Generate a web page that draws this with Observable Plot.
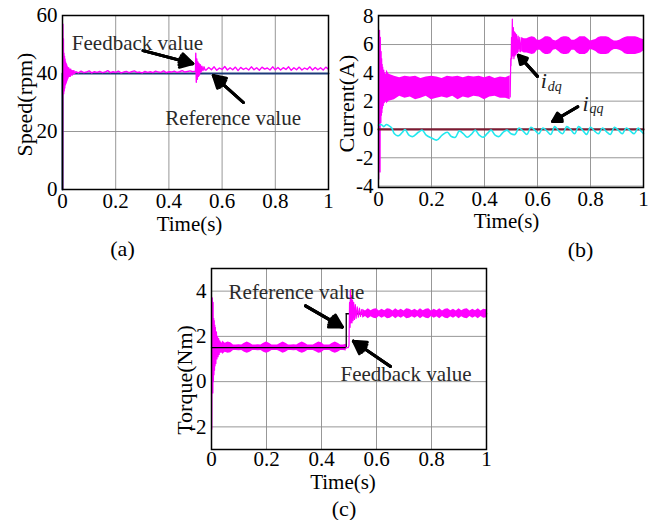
<!DOCTYPE html>
<html><head><meta charset="utf-8">
<script src="https://cdn.jsdelivr.net/npm/d3@7"></script>
<script src="https://cdn.jsdelivr.net/npm/@observablehq/plot@0.6"></script>
<style>
body{margin:0;background:#fff;}
#wrap{position:relative;width:660px;height:520px;overflow:hidden;background:#fff;}
#wrap svg{position:absolute;}
</style></head><body><div id="wrap"></div>
<script>
// ---------- shared ----------
const xTicks = [0, 0.2, 0.4, 0.6, 0.8, 1];
const timeLabel = "Time(s)";

// ---------- (a) Speed ----------
const speedTicks = [0, 20, 40, 60];
const speedRefT = [0, 0, 1];
const speedRefV = [0, 40, 40];
const speedStartT = [0,0.0008,0.0015,0.0025,0.0035,0.0045,0.0055,0.0065,0.0075,0.0085,0.0095,0.0105,0.0115,0.0125,0.0135,0.0145,0.0155,0.0165,0.0175,0.0185,0.0195,0.021,0.023,0.025,0.027,0.029,0.031,0.033,0.035,0.037,0.039,0.041,0.043,0.045];
const speedStartV = [0,30,57,36,52,33,47,34,46,35,45,36,44,36.5,43.5,37,43,37.5,42.5,38,42,38.5,42,39,41.5,39,41.5,39.5,41,39.5,41,40,41,40];
const speedSteadyV = [40.6,40.2,40.8,40.3,40.5,40.9,40.2,40.6,40.4,40.7,40.3,40.5,41.0,40.3,40.6,40.4,40.8,40.2,40.5,40.7,40.3,40.6,40.9,40.4,40.5,40.2,40.7,40.4,40.6,40.3,40.8,40.5,40.4,40.9,40.3,40.6,40.5,40.8,40.4,40.6,41.0,40.5,40.7,40.9,40.6]; // t = 0.05 .. 0.49
const speedStepT = [0.5,0.501,0.503,0.505,0.507,0.509,0.511,0.513,0.515,0.518,0.521,0.524,0.528,0.532,0.536];
const speedStepV = [40.8,47,37,45,38,44,39,43.5,39.5,43,40.5,42.5,41,42.3,41.2];
const speedRippleV = [41.2,42.1,41.3,42.3,41.1,41.9,41.4,42.4,41.2,42.0,41.3,42.2,41.0,42.1,41.4,41.9,41.2,42.3,41.3,42.0,41.1,42.2,41.5,41.9,41.2,42.3,41.3,42.1,41.2,42.0,41.4,42.3,41.1,42.0,41.3,42.2,41.2,41.9,41.4,42.3,41.2,42.1,41.3,42.0,41.2,42.2,41.5]; // t = 0.54 .. 1.00

// ---------- (b) Current ----------
const currentTicks = [-4, -2, 0, 2, 4, 6, 8];
const iqRefT = [0, 1];
const iqRefV = [0, 0];
const idqStartT = [0,0.001,0.002,0.003,0.004,0.005,0.006,0.007,0.008,0.009,0.010,0.011,0.012,0.013,0.014,0.015,0.016,0.018,0.020,0.022,0.024,0.026,0.028,0.030];
const idqStartV = [0,-3.5,2,6.8,7,0,-3,6.5,4,0.5,5.5,1,5,1.2,4.6,1.5,4.4,1.7,4.2,1.9,4.0,2.0,3.9,2.1];
const idqBand1T = [0.03,0.04,0.06,0.08,0.10,0.12,0.14,0.16,0.18,0.20,0.22,0.24,0.26,0.28,0.30,0.32,0.34,0.36,0.38,0.40,0.42,0.44,0.46,0.48,0.497];
const idqBand1Hi = [4.2,3.9,3.75,3.65,3.75,3.7,3.75,3.6,3.7,3.75,3.7,3.6,3.75,3.7,3.75,3.65,3.75,3.7,3.75,3.65,3.75,3.6,3.7,3.65,3.8];
const idqBand1Lo = [1.8,2.0,2.1,2.35,2.2,2.3,2.1,2.2,2.35,2.1,2.2,2.3,2.2,2.35,2.1,2.3,2.2,2.35,2.3,2.1,2.3,2.35,2.2,2.2,2.1];
const idqStepT = [0.497,0.499,0.5,0.502,0.503,0.505,0.507,0.509,0.511,0.513,0.515,0.517,0.519,0.521,0.524,0.527,0.530,0.533,0.536,0.54];
const idqStepV = [2.3,5,4.5,6.5,5,7.8,5.2,7.2,5.0,6.9,5.2,6.8,5.3,6.7,5.4,6.6,5.5,6.5,5.5,6.4];
const idqBand2Hi = [6.5,6.4,6.4,6.5,6.55,6.5,6.3,6.3,6.4,6.55,6.55,6.5,6.3,6.25,6.35,6.5,6.55,6.55,6.5,6.3,6.3,6.4,6.55,6.55,6.55,6.4,6.25,6.3,6.35,6.5,6.55,6.55,6.55,6.5,6.35,6.25,6.25,6.3,6.4,6.5,6.55,6.55,6.55,6.55,6.5,6.4,6.35]; // t = 0.54 .. 1.00
const idqBand2Lo = [5.5,5.4,5.4,5.35,5.3,5.35,5.6,5.6,5.4,5.3,5.3,5.35,5.6,5.65,5.5,5.35,5.3,5.3,5.35,5.6,5.6,5.4,5.3,5.3,5.3,5.4,5.65,5.6,5.5,5.35,5.3,5.3,5.3,5.35,5.55,5.65,5.65,5.6,5.5,5.35,5.3,5.3,5.3,5.3,5.35,5.4,5.55];
const iqqT = [0,0.01,0.02,0.03,0.04,0.05,0.06,0.075,0.09,0.10,0.115,0.13,0.15,0.165,0.18,0.20,0.22,0.24,0.26,0.275,0.29,0.305,0.32,0.335,0.35,0.365,0.38,0.395,0.41,0.425,0.44,0.455,0.47,0.485,0.50,0.515,0.53,0.545,0.56,0.575,0.59,0.605,0.62,0.635,0.65,0.665,0.68,0.695,0.71,0.725,0.74,0.755,0.77,0.785,0.80,0.815,0.83,0.845,0.86,0.875,0.89,0.905,0.92,0.935,0.95,0.965,0.98,0.99,1.0];
const iqqV = [0.3,0.35,0.2,0.35,0.25,0.1,-0.3,-0.45,-0.2,0.0,-0.4,-0.5,-0.2,-0.05,-0.4,-0.6,-0.75,-0.4,-0.2,-0.5,-0.55,-0.1,-0.3,-0.55,-0.35,-0.05,-0.4,-0.55,-0.3,-0.05,-0.4,-0.5,-0.2,-0.05,-0.3,-0.35,0.1,-0.1,-0.35,0.15,-0.05,-0.3,0.1,-0.1,-0.35,0.2,-0.1,-0.3,0.2,0.0,-0.3,0.2,-0.05,-0.35,0.15,-0.1,-0.3,0.1,-0.15,-0.35,0.15,-0.05,-0.3,0.1,-0.1,-0.3,0.1,-0.1,-0.3];

// ---------- (c) Torque ----------
const torqueTicks = [-2, 0, 2, 4];
const tqRef1T = [0, 0.49, 0.49];
const tqRef1V = [1.5, 1.5, 3];
const tqRef2T = [0.49, 1];
const tqRef2V = [3, 3];
const tqStartT = [0,0.001,0.002,0.003,0.004,0.005,0.006,0.007,0.008,0.009,0.010,0.011,0.012,0.013,0.014,0.016,0.018,0.020,0.022,0.024,0.026,0.028,0.030,0.032,0.034,0.036,0.038,0.040];
const tqStartV = [0,-2.1,1,3.7,2.5,-0.5,3.5,0,2.8,0.3,2.7,0.5,2.5,0.7,2.4,0.8,2.2,1.0,2.0,1.1,1.9,1.2,1.8,1.3,1.75,1.3,1.7,1.35];
const tqBand1Half = [0.3,0.2,0.25,0.22,0.12,0.12,0.13,0.12,0.2,0.25,0.2,0.12,0.12,0.13,0.12,0.2,0.25,0.2,0.12,0.12,0.12,0.18,0.25,0.2,0.12,0.12,0.13,0.12,0.2,0.25,0.2,0.12,0.12,0.12,0.18,0.25,0.22,0.12,0.12,0.12,0.2,0.25,0.2,0.12,0.12,0.15]; // t = 0.04 .. 0.49, around 1.5
const tqStepT = [0.49,0.497,0.5,0.502,0.504,0.505,0.507,0.509,0.511,0.513,0.515,0.517,0.520,0.523,0.526,0.530,0.534,0.538,0.542,0.546,0.55];
const tqStepV = [1.5,1.5,1.6,3.5,2.4,4.05,2.6,3.8,2.6,3.6,2.7,3.5,2.75,3.4,2.8,3.3,2.85,3.25,2.88,3.18,2.9];
const tqBand2Half = [0.2,0.12,0.22,0.13,0.2,0.22,0.12,0.2,0.13,0.22,0.2,0.12,0.22,0.13,0.2,0.12,0.22,0.2,0.13,0.2,0.12,0.22,0.13,0.2,0.22,0.12,0.2,0.13,0.22,0.12,0.2,0.22,0.13,0.2,0.12,0.22,0.13,0.2,0.22,0.12,0.2,0.13,0.22,0.12,0.2,0.18]; // t = 0.55 .. 1.00, around 3

// ---------- annotations ----------
const notesA = [
  {text: "Feedback value", x: 0.035, y: 50.3, x1: 0.303, y1: 47.9, x2: 0.49, y2: 43.4},
  {text: "Reference value", x: 0.386, y: 24.5, x1: 0.68, y1: 30, x2: 0.567, y2: 39.3}
];
const notesB = [
  {sub: "dq", x: 0.612, y: 3.4, x1: 0.6, y1: 3.75, x2: 0.528, y2: 5.24},
  {sub: "qq", x: 0.77, y: 1.8, x1: 0.752, y1: 1.6, x2: 0.657, y2: 0.56}
];
const notesC = [
  {text: "Reference value", x: 0.062, y: 3.97, x1: 0.342, y1: 3.35, x2: 0.476, y2: 2.41},
  {text: "Feedback value", x: 0.469, y: 0.31, x1: 0.651, y1: 0.67, x2: 0.516, y2: 1.79}
];

// ---------- helpers ----------
const FONT = "Liberation Serif, Times New Roman, serif";
const MAG = "#ff00ff";
const grid = (start, step, n) => Array.from({length: n}, (_, i) => +(start + i * step).toFixed(4));
const pts = (T, V) => T.map((t, i) => ({t, v: V[i]}));
const band = (T, lo, hi) => T.map((t, i) => ({t, lo: lo[i], hi: hi[i]}));
const bandC = (T, c, half) => T.map((t, i) => ({t, lo: c - half[i], hi: c + half[i]}));

function arrows(notes) {
  return [60, 40, 20].map(a => Plot.arrow(notes, {
    x1: "x1", y1: "y1", x2: "x2", y2: "y2",
    stroke: "black", strokeWidth: 3, headLength: 7, headAngle: a
  }));
}

const wrap = document.getElementById("wrap");
function panel(o) {
  const svg = Plot.plot({
    width: o.width, height: o.height,
    marginTop: o.mt, marginRight: o.mr, marginBottom: o.mb, marginLeft: o.ml,
    style: {fontFamily: FONT, fontSize: "21px", background: "transparent", overflow: "visible", color: "black"},
    x: {domain: [0, 1], label: null},
    y: {domain: o.yDomain, label: null},
    marks: [
      Plot.gridX(xTicks, {stroke: "#8c8c8c", strokeOpacity: 1, strokeWidth: 0.9}),
      Plot.gridY(o.yTicks, {stroke: "#8c8c8c", strokeOpacity: 1, strokeWidth: 0.9}),
      ...o.marks,
      Plot.frame({stroke: "black", strokeWidth: 1.5}),
      Plot.axisX(xTicks, {tickSize: 0, tickPadding: o.xpad, label: null, tickFormat: d => String(d)}),
      Plot.axisY(o.yTicks, {tickSize: 0, tickPadding: 5, label: null, tickFormat: d => String(d)}),
      Plot.text([timeLabel], {text: d => d, frameAnchor: "bottom", textAnchor: "middle", lineAnchor: "middle", dx: o.tdx, dy: o.tdy, fontSize: 21}),
      Plot.text([o.ylabel], {text: d => d, frameAnchor: "left", textAnchor: "middle", lineAnchor: "middle", rotate: -90, dx: o.ydx, dy: o.ydy, fontSize: 22}),
      Plot.text([o.caption], {text: d => d, frameAnchor: "bottom", textAnchor: "middle", lineAnchor: "middle", dx: o.cdx, dy: o.cdy, fontSize: 22})
    ]
  });
  svg.style.left = o.left + "px";
  svg.style.top = o.top + "px";
  wrap.appendChild(svg);
}

// ---------- (a) ----------
panel({
  left: 0, top: 0, width: 330, height: 260, mt: 15, mr: 2, mb: 71, ml: 62,
  yDomain: [0, 60], yTicks: speedTicks, xpad: 4,
  ylabel: "Speed(rpm)", ydx: -38, ydy: 2,
  tdx: -6, tdy: 35, caption: "(a)", cdx: -73, cdy: 59,
  marks: [
    Plot.line(pts(speedRefT, speedRefV), {x: "t", y: "v", stroke: "#1d3a78", strokeWidth: 2}),
    Plot.line([
      ...pts(speedStartT, speedStartV),
      ...pts(grid(0.05, 0.01, speedSteadyV.length), speedSteadyV),
      ...pts(speedStepT, speedStepV),
      ...pts(grid(0.54, 0.01, speedRippleV.length), speedRippleV)
    ], {x: "t", y: "v", stroke: MAG, strokeWidth: 1.4, clip: true}),
    ...arrows(notesA),
    Plot.text(notesA, {x: "x", y: "y", text: "text", textAnchor: "start", fontSize: 21, fill: "#2a2a2a"})
  ]
});

// ---------- (b) ----------
panel({
  left: 330, top: 0, width: 330, height: 260, mt: 15, mr: 17, mb: 73, ml: 48,
  yDomain: [-4.1, 8.05], yTicks: currentTicks, xpad: 4,
  ylabel: "Current(A)", ydx: -32, ydy: 2,
  tdx: -4.5, tdy: 34, caption: "(b)", cdx: 69.5, cdy: 62,
  marks: [
    Plot.areaY(band(idqBand1T, idqBand1Lo, idqBand1Hi), {x: "t", y1: "lo", y2: "hi", fill: MAG}),
    Plot.areaY(band(grid(0.54, 0.01, idqBand2Hi.length), idqBand2Lo, idqBand2Hi), {x: "t", y1: "lo", y2: "hi", fill: MAG}),
    Plot.line(pts(idqStartT, idqStartV), {x: "t", y: "v", stroke: MAG, strokeWidth: 1.2, clip: true}),
    Plot.line(pts(idqStepT, idqStepV), {x: "t", y: "v", stroke: MAG, strokeWidth: 1.2, clip: true}),
    Plot.line(pts(iqRefT, iqRefV), {x: "t", y: "v", stroke: "#7b1c33", strokeWidth: 2.2}),
    Plot.line(pts(iqqT, iqqV), {x: "t", y: "v", stroke: "#22e8ee", strokeWidth: 1.6, curve: "catmull-rom"}),
    ...arrows(notesB),
    Plot.text(notesB, {x: "x", y: "y", text: () => "i", textAnchor: "start", fontSize: 22, fontStyle: "italic", fill: "#222"}),
    Plot.text(notesB, {x: "x", y: "y", text: "sub", textAnchor: "start", dx: 7, dy: 5, fontSize: 14, fontStyle: "italic", fill: "#222"})
  ]
});

// ---------- (c) ----------
panel({
  left: 130, top: 250, width: 370, height: 270, mt: 18, mr: 14, mb: 71, ml: 81,
  yDomain: [-3, 5], yTicks: torqueTicks, xpad: 2,
  ylabel: "Torque(Nm)", ydx: -27, ydy: 21,
  tdx: -6, tdy: 33, caption: "(c)", cdx: -5, cdy: 59,
  marks: [
    Plot.line(pts(tqRef2T, tqRef2V), {x: "t", y: "v", stroke: "black", strokeWidth: 1.5}),
    Plot.areaY(bandC(grid(0.04, 0.01, tqBand1Half.length), 1.5, tqBand1Half), {x: "t", y1: "lo", y2: "hi", fill: MAG}),
    Plot.areaY(bandC(grid(0.55, 0.01, tqBand2Half.length), 3, tqBand2Half), {x: "t", y1: "lo", y2: "hi", fill: MAG}),
    Plot.line(pts(tqStartT, tqStartV), {x: "t", y: "v", stroke: MAG, strokeWidth: 1.2, clip: true}),
    Plot.line(pts(tqRef1T, tqRef1V), {x: "t", y: "v", stroke: "black", strokeWidth: 1.3}),
    Plot.line(pts(tqStepT, tqStepV), {x: "t", y: "v", stroke: MAG, strokeWidth: 1.2, clip: true}),
    ...arrows(notesC),
    Plot.text(notesC, {x: "x", y: "y", text: "text", textAnchor: "start", fontSize: 21, fill: "#2a2a2a"})
  ]
});
</script></body></html>
